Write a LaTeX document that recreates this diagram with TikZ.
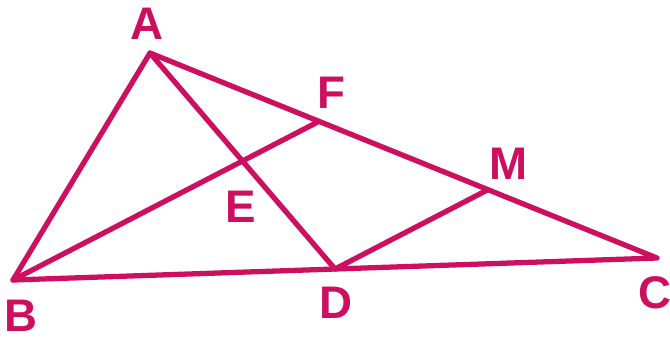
\documentclass[tikz,border=0pt]{standalone}
\usepackage{fontspec}
\setmainfont{Liberation Sans}
\usetikzlibrary{calc}
\definecolor{pinkred}{RGB}{205,15,95}

\begin{document}
\begin{tikzpicture}[x=0.02cm,y=-0.02cm,
    edge/.style={draw=pinkred,line width=3pt,line join=round,line cap=round},
    lbl/.style={text=pinkred,font=\fontsize{26}{26}\selectfont\bfseries,inner sep=0pt}]
        \useasboundingbox (0,0) rectangle (670,339);
        \coordinate (A) at (150,53);
        \coordinate (B) at (13,280);
        \coordinate (C) at (657,258);
        \coordinate (D) at ($(B)!0.5!(C)$);
        \coordinate (E) at ($(A)!0.5!(D)$);
        \coordinate (F) at ($(A)!1/3!(C)$);
        \coordinate (M) at ($(A)!2/3!(C)$);
        %Draw edges
        \draw[edge] (A) -- (B) -- (C) -- cycle;
        \draw[edge] (A) -- (D);
        \draw[edge] (B) -- (F);
        \draw[edge] (D) -- (M);
        %Labels
        \node[lbl] (lA) at (147,24) {A};
        \node[lbl] (lB) at (21,316) {B};
        \node[lbl] (lC) at (655,293) {C};
        \node[lbl] (lD) at (336,303) {D};
        \node[lbl] (lE) at (241,207) {E};
        \node[lbl] (lF) at (331,93) {F};
        \node[lbl] (lM) at (509,164) {M};
\end{tikzpicture}
\end{document}
